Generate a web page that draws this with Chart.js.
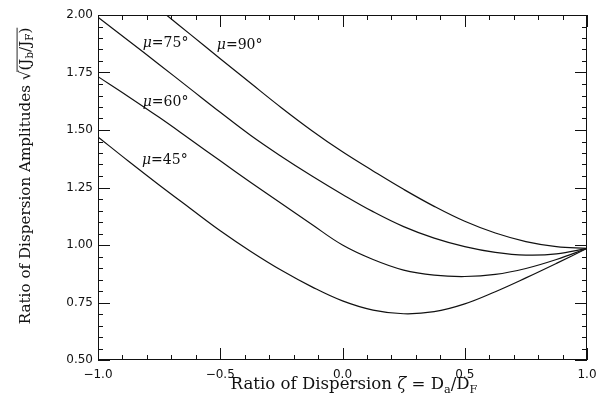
<!DOCTYPE html>
<html><head><meta charset="utf-8">
<script src="https://cdn.jsdelivr.net/npm/chart.js@4.4.0/dist/chart.umd.min.js"></script>
<style>html,body{margin:0;padding:0;background:#fff;}</style>
</head><body>
<canvas id="c" width="598" height="402"></canvas>
<script>
// ---- data ----
const zeta   = [-1, -0.875, -0.75, -0.625, -0.5, -0.375, -0.25, -0.125, 0,
                0.125, 0.25, 0.375, 0.5, 0.625, 0.75, 0.875, 1];
const zeta90 = [-0.72, -0.625, -0.5, -0.375, -0.25, -0.125, 0,
                0.125, 0.25, 0.375, 0.5, 0.625, 0.75, 0.875, 1];
const mu45 = [1.470, 1.364, 1.261, 1.161, 1.062, 0.972, 0.890, 0.818, 0.757,
              0.717, 0.701, 0.710, 0.744, 0.797, 0.857, 0.920, 0.985];
const mu60 = [1.732, 1.645, 1.555, 1.461, 1.366, 1.272, 1.180, 1.089, 1.000,
              0.937, 0.891, 0.869, 0.863, 0.872, 0.898, 0.937, 0.985];
const mu75 = [1.990, 1.888, 1.785, 1.681, 1.577, 1.476, 1.385, 1.300, 1.220,
              1.145, 1.080, 1.030, 0.993, 0.968, 0.956, 0.961, 0.985];
const mu90 = [2.000, 1.918, 1.810, 1.703, 1.597, 1.497, 1.405,
              1.322, 1.242, 1.168, 1.103, 1.052, 1.015, 0.993, 0.985];
const curveNames = ['45°', '60°', '75°', '90°'];
const yTickValues = [0.5, 0.75, 1.0, 1.25, 1.5, 1.75, 2.0];
const xTickValues = [-1, -0.5, 0, 0.5, 1];

const pts = (xs, ys) => xs.map((x, i) => ({x, y: ys[i]}));
const INK = '#111';
const SERIF = '"DejaVu Serif", serif';

function mkSet(label, xs, ys) {
  return {label, data: pts(xs, ys), borderColor: INK, borderWidth: 1.2,
          pointRadius: 0, tension: 0.4, fill: false};
}

function drawParts(ctx, parts, size) {
  let x = 0;
  const out = [];
  for (const p of parts) {
    let fs = size, dy = 0, st = '';
    if (p.s === 'sub') { fs = size * 0.68; dy = size * 0.28; }
    if (p.s === 'i') st = 'italic ';
    ctx.font = st + fs + 'px ' + SERIF;
    const w = ctx.measureText(p.t).width;
    out.push({p, x, dy, font: ctx.font, w});
    x += w;
  }
  return {items: out, width: x};
}
function renderParts(ctx, layout, x0, y0) {
  for (const it of layout.items) {
    ctx.font = it.font;
    ctx.fillText(it.p.t, x0 + it.x, y0 + it.dy);
  }
}

const framePlugin = {
  id: 'frame',
  afterDatasetsDraw(chart) {
    const {ctx, chartArea: a, scales: {x, y}} = chart;
    ctx.save();
    ctx.strokeStyle = INK;
    ctx.lineWidth = 1;
    ctx.strokeRect(Math.round(a.left) + 0.5, Math.round(a.top) + 0.5,
                   Math.round(a.right - a.left) - 1, Math.round(a.bottom - a.top) - 1);
    ctx.beginPath();
    for (let i = -10; i <= 10; i++) {
      const px = Math.round(x.getPixelForValue(i / 10)) + 0.5;
      const len = (i % 5 === 0) ? 12 : 5;
      ctx.moveTo(px, a.bottom); ctx.lineTo(px, a.bottom - len);
      ctx.moveTo(px, a.top); ctx.lineTo(px, a.top + len);
    }
    for (let i = 10; i <= 40; i++) {
      const py = Math.round(y.getPixelForValue(i / 20)) + 0.5;
      const len = (i % 5 === 0) ? 12 : 5;
      ctx.moveTo(a.left, py); ctx.lineTo(a.left + len, py);
      ctx.moveTo(a.right, py); ctx.lineTo(a.right - len, py);
    }
    ctx.stroke();

    // curve labels
    ctx.fillStyle = INK;
    ctx.textBaseline = 'middle';
    const anchors = [[-0.82, 1.37], [-0.817, 1.622], [-0.817, 1.878], [-0.514, 1.87]];
    curveNames.forEach((n, k) => {
      const lay = drawParts(ctx, [{t: 'μ', s: 'i'}, {t: '=' + n, s: 'n'}], 14);
      renderParts(ctx, lay, x.getPixelForValue(anchors[k][0]), y.getPixelForValue(anchors[k][1]));
    });

    // x title
    const xParts = [{t: 'Ratio of Dispersion ', s: 'n'}, {t: 'ζ', s: 'i'}, {t: ' = D', s: 'n'},
                    {t: 'a', s: 'sub'}, {t: '/D', s: 'n'}, {t: 'F', s: 'sub'}];
    let lay = drawParts(ctx, xParts, 100);
    const xs = 100 * 247 / lay.width;
    lay = drawParts(ctx, xParts, xs);
    renderParts(ctx, lay, 354 - lay.width / 2, 385);

    // y title (rotated)
    const yParts = [{t: 'Ratio of Dispersion Amplitudes ', s: 'n'}, {t: '√', s: 'n'}, {t: '(J', s: 'n'},
                    {t: 'b', s: 'sub'}, {t: '/J', s: 'n'}, {t: 'F', s: 'sub'}, {t: ')', s: 'n'}];
    lay = drawParts(ctx, yParts, 100);
    const ys = 100 * 297 / lay.width;
    lay = drawParts(ctx, yParts, ys);
    ctx.translate(26, 176);
    ctx.rotate(-Math.PI / 2);
    const x0 = -lay.width / 2;
    renderParts(ctx, lay, x0, 0);
    const sq = lay.items[1];
    ctx.beginPath();
    ctx.lineWidth = 0.9;
    ctx.moveTo(x0 + sq.x + sq.w * 0.85, -ys * 0.62 + 0.5);
    ctx.lineTo(x0 + lay.width, -ys * 0.62 + 0.5);
    ctx.stroke();
    ctx.restore();
  }
};

new Chart(document.getElementById('c'), {
  type: 'line',
  data: {datasets: [mkSet('μ=45°', zeta, mu45), mkSet('μ=60°', zeta, mu60),
                    mkSet('μ=75°', zeta, mu75), mkSet('μ=90°', zeta90, mu90)]},
  options: {
    responsive: false, animation: false, devicePixelRatio: 1,
    layout: {padding: {left: 0, right: 11, top: 15, bottom: 0}},
    plugins: {legend: {display: false}, tooltip: {enabled: false}},
    scales: {
      x: {type: 'linear', min: -1, max: 1,
          grid: {display: false, drawTicks: false}, border: {display: false},
          afterBuildTicks: s => { s.ticks = xTickValues.map(v => ({value: v})); },
          afterFit: s => { s.height = 42; s.paddingLeft = 0; s.paddingRight = 0; },
          ticks: {color: INK, padding: 8, maxRotation: 0, autoSkip: false,
                  font: {family: '"DejaVu Sans"', size: 12},
                  callback: v => (v < 0 ? '\u2212' : '') + Math.abs(v).toFixed(1)}},
      y: {type: 'linear', min: 0.5, max: 2.0,
          grid: {display: false, drawTicks: false}, border: {display: false},
          afterBuildTicks: s => { s.ticks = yTickValues.map(v => ({value: v})); },
          afterFit: s => { s.width = 98; s.paddingTop = 0; s.paddingBottom = 0; },
          ticks: {color: INK, padding: 5, autoSkip: false,
                  font: {family: '"DejaVu Sans"', size: 12},
                  callback: v => v.toFixed(2)}}
    }
  },
  plugins: [framePlugin]
});
</script>
</body></html>
